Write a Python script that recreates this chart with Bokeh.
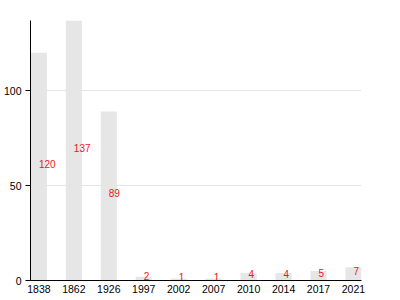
from bokeh.plotting import figure
from bokeh.models import ColumnDataSource, Range1d, FixedTicker
from bokeh.embed import file_html
from bokeh.resources import INLINE
from bokeh.core.properties import value

years = ["1838", "1862", "1926", "1997", "2002", "2007", "2010", "2014", "2017", "2021"]
counts = [120, 137, 89, 2, 1, 1, 4, 4, 5, 7]

idx = list(range(len(years)))
src = ColumnDataSource(dict(
    x=idx,
    top=counts,
    half=[c / 2 for c in counts],
    label=[str(c) for c in counts],
))

p = figure(width=400, height=300, output_backend="svg", toolbar_location=None,
           x_range=Range1d(-0.24, 9.23), y_range=Range1d(0, 137),
           min_border_left=30, min_border_right=39, min_border_top=20, min_border_bottom=20)
p.outline_line_color = None
p.background_fill_color = "white"
p.border_fill_color = "white"

p.vbar(x="x", top="top", width=0.46, bottom=0, source=src,
       fill_color="#e6e6e6", line_color=None)
p.text(x="x", y="half", text="label", source=src, text_color="#f0141e",
       text_font=value("Liberation Sans"), text_font_size="10px",
       text_align="left", text_baseline="middle", y_offset=-3)

p.xaxis.ticker = FixedTicker(ticks=idx)
p.xaxis.major_label_overrides = {i: y for i, y in enumerate(years)}
p.xaxis.major_tick_line_color = None
p.xaxis.major_tick_out = 0
p.xaxis.minor_tick_line_color = None
p.xaxis.major_label_standoff = 4
p.xaxis.axis_line_color = "black"

p.yaxis.ticker = FixedTicker(ticks=[0, 50, 100])
p.yaxis.major_tick_out = 5
p.yaxis.major_tick_in = 0
p.yaxis.minor_tick_line_color = None
p.yaxis.major_label_standoff = 4
p.yaxis.axis_line_color = "black"

for ax in (p.xaxis, p.yaxis):
    ax.major_label_text_font = "Liberation Sans"
    ax.major_label_text_font_size = "10.5px"
    ax.major_label_text_color = "black"

p.xgrid.grid_line_color = None
p.ygrid.ticker = FixedTicker(ticks=[50, 100])
p.ygrid.grid_line_color = "#e5e5e5"

open("out.html", "w").write(file_html(p, INLINE))
